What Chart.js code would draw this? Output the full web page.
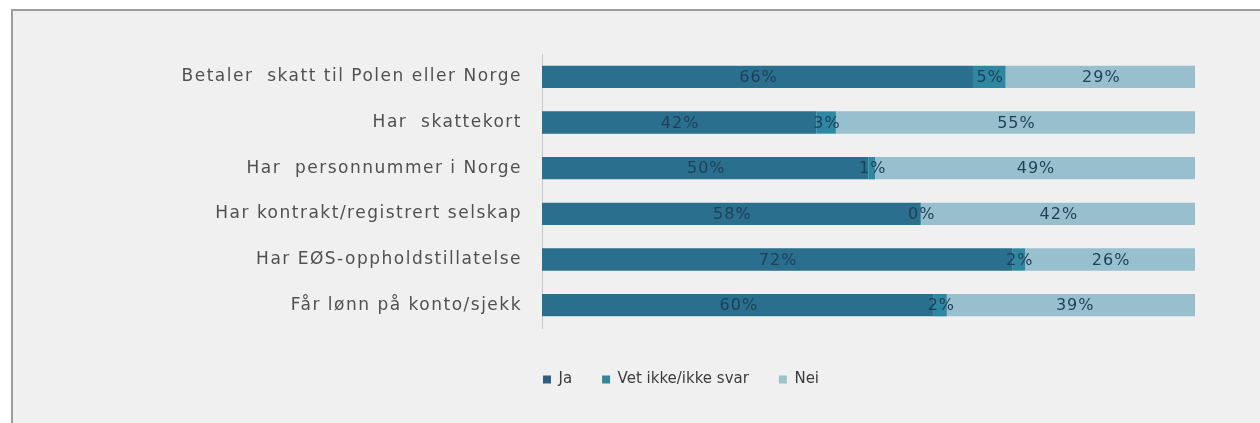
<!DOCTYPE html>
<html>
<head>
<meta charset="utf-8">
<script src="https://cdn.jsdelivr.net/npm/chart.js@4.4.1/dist/chart.umd.min.js"></script>
<style>
  html, body { margin: 0; padding: 0; background: #ffffff; overflow: hidden; }
  #frame {
    position: absolute; left: 11px; top: 9px; width: 1300px; height: 500px;
    background: #f0f0f0; border-top: 2px solid #9c9c9c; border-left: 2px solid #9c9c9c;
  }
  #wrap { position: absolute; left: 0; top: 0; width: 1260px; height: 423px; }
</style>
</head>
<body>
<div id="frame"></div>
<div id="wrap"><canvas id="chart" width="1260" height="423"></canvas></div>
<script>
// Survey answers per question, in percent
const categories = [
  'Betaler  skatt til Polen eller Norge',
  'Har  skattekort',
  'Har  personnummer i Norge',
  'Har kontrakt/registrert selskap',
  'Har EØS-oppholdstillatelse',
  'Får lønn på konto/sjekk'
];
const jaValues = [66, 42, 50, 58, 72, 60];
const vetIkkeValues = [5, 3, 1, 0, 2, 2];
const neiValues = [29, 55, 49, 42, 26, 39];

const seriesNames = ['Ja', 'Vet ikke/ikke svar', 'Nei'];
const seriesColors = ['#2b6f8e', '#2f88a1', '#97bfcd'];
const legendColors = ['#2d5f80', '#33879a', '#9cc4cc'];

// Writes the percentage in the middle of every bar segment,
// then widens the spacing for the category labels drawn after the bars
const valueLabels = {
  id: 'valueLabels',
  afterDatasetsDraw(chart) {
    const ctx = chart.ctx;
    ctx.save();
    ctx.letterSpacing = '1px';
    ctx.font = '16px "DejaVu Sans"';
    ctx.fillStyle = '#1e3f56';
    ctx.textAlign = 'center';
    ctx.textBaseline = 'middle';
    chart.data.datasets.forEach((ds, i) => {
      const meta = chart.getDatasetMeta(i);
      meta.data.forEach((bar, j) => {
        const x = (bar.x + bar.base) / 2 + 1;
        ctx.fillText(ds.data[j] + '%', x, bar.y + 1);
      });
    });
    ctx.restore();
    ctx.letterSpacing = '1.5px';
  },
  afterDraw(chart) {
    chart.ctx.letterSpacing = '0px';
  }
};

new Chart(document.getElementById('chart'), {
  type: 'bar',
  data: {
    labels: categories,
    datasets: [
      { label: seriesNames[0], data: jaValues, backgroundColor: seriesColors[0] },
      { label: seriesNames[1], data: vetIkkeValues, backgroundColor: seriesColors[1] },
      { label: seriesNames[2], data: neiValues, backgroundColor: seriesColors[2] }
    ]
  },
  options: {
    indexAxis: 'y',
    responsive: false,
    animation: false,
    datasets: {
      bar: { barPercentage: 0.98, categoryPercentage: 0.5, borderWidth: 0 }
    },
    layout: { padding: { top: 54, right: 65, bottom: 26, left: 167 } },
    scales: {
      x: {
        stacked: true,
        min: 0,
        max: 100,
        grid: { display: false },
        border: { display: false },
        ticks: { display: false },
        afterFit(scale) { scale.height = 14; }
      },
      y: {
        stacked: true,
        grid: { display: false },
        border: { display: true, color: '#c8c8c8', width: 1 },
        ticks: {
          z: 1,
          color: '#505050',
          padding: 12,
          font: { family: 'DejaVu Sans', size: 17 }
        },
        afterFit(scale) { scale.width = 375; }
      }
    },
    plugins: {
      legend: {
        position: 'bottom',
        labels: {
          boxWidth: 8,
          boxHeight: 8,
          padding: 30,
          color: '#3c3c3c',
          font: { family: 'DejaVu Sans', size: 15 },
          generateLabels(chart) {
            return seriesNames.map((name, i) => ({
              text: name,
              fillStyle: legendColors[i],
              strokeStyle: legendColors[i],
              fontColor: '#3c3c3c',
              lineWidth: 0,
              datasetIndex: i
            }));
          }
        }
      },
      tooltip: { enabled: false }
    }
  },
  plugins: [valueLabels]
});
</script>
</body>
</html>
